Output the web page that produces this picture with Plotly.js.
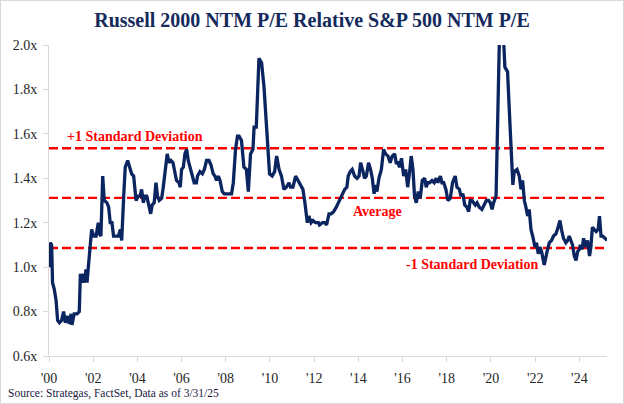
<!DOCTYPE html>
<html>
<head>
<meta charset="utf-8">
<script src="https://cdn.plot.ly/plotly-3.0.1.min.js"></script>
<style>
  html, body { margin: 0; padding: 0; background: #ffffff; }
  #frame { width: 624px; height: 404px; box-sizing: border-box; border: 1px solid #d9d9d9; overflow: hidden; }
  #chart { width: 622px; height: 402px; }
</style>
</head>
<body>
<div id="frame"><div id="chart"></div></div>
<script>
// ---- data ----
const dates = [
  2000.01,2000.06,2000.12,2000.16,2000.24,2000.32,2000.39,2000.47,2000.57,2000.66,2000.74,2000.84,2000.92,2001.00,2001.04,2001.14,2001.27,2001.37,2001.42,2001.48,
  2001.55,2001.63,2001.67,2001.72,2001.78,2001.86,2001.93,2002.02,2002.13,2002.23,2002.28,2002.35,2002.43,2002.50,2002.62,2002.70,2002.77,2002.85,2002.92,2003.03,
  2003.14,2003.23,2003.29,2003.38,2003.45,2003.56,2003.67,2003.74,2003.83,2003.94,2004.04,2004.12,2004.19,2004.27,2004.34,2004.42,2004.49,2004.60,2004.67,2004.76,
  2004.84,2004.91,2004.99,2005.10,2005.17,2005.25,2005.35,2005.43,2005.52,2005.61,2005.70,2005.77,2005.88,2005.94,2006.00,2006.08,2006.15,2006.23,2006.30,2006.38,
  2006.48,2006.57,2006.67,2006.72,2006.83,2006.94,2007.03,2007.13,2007.24,2007.33,2007.43,2007.51,2007.58,2007.66,2007.74,2007.84,2007.93,2008.04,2008.14,2008.26,
  2008.34,2008.44,2008.53,2008.60,2008.71,2008.82,2008.93,2009.02,2009.12,2009.23,2009.28,2009.38,2009.50,2009.62,2009.73,2009.88,2009.98,2010.10,2010.21,2010.30,
  2010.41,2010.52,2010.63,2010.74,2010.86,2010.93,2011.04,2011.16,2011.28,2011.38,2011.49,2011.58,2011.69,2011.76,2011.86,2011.95,2012.06,2012.19,2012.24,2012.37,
  2012.49,2012.56,2012.67,2012.77,2012.88,2013.00,2013.15,2013.27,2013.38,2013.48,2013.54,2013.63,2013.72,2013.83,2013.94,2014.03,2014.10,2014.21,2014.28,2014.36,
  2014.46,2014.55,2014.63,2014.71,2014.78,2014.84,2014.93,2015.04,2015.14,2015.23,2015.34,2015.44,2015.53,2015.64,2015.71,2015.79,2015.86,2015.95,2016.05,2016.14,
  2016.23,2016.32,2016.39,2016.47,2016.54,2016.62,2016.71,2016.80,2016.89,2017.00,2017.07,2017.13,2017.22,2017.33,2017.43,2017.52,2017.60,2017.71,2017.78,2017.86,
  2017.96,2018.05,2018.16,2018.26,2018.38,2018.46,2018.57,2018.64,2018.73,2018.81,2018.91,2018.99,2019.06,2019.14,2019.21,2019.29,2019.37,2019.47,2019.59,2019.70,
  2019.79,2019.89,2019.97,2020.05,2020.12,2020.23,2020.30,2020.44,2020.63,2020.75,2020.87,2020.99,2021.05,2021.18,2021.28,2021.36,2021.43,2021.51,2021.58,2021.66,
  2021.73,2021.81,2021.91,2021.99,2022.06,2022.14,2022.22,2022.29,2022.41,2022.50,2022.56,2022.64,2022.74,2022.83,2022.94,2023.01,2023.12,2023.19,2023.28,2023.39,
  2023.47,2023.54,2023.62,2023.69,2023.77,2023.85,2023.92,2024.00,2024.04,2024.12,2024.19,2024.28,2024.37,2024.46,2024.52,2024.59,2024.67,2024.76,2024.85,2024.91,
  2024.98,2025.05,2025.16,2025.25
];
const relativePE = [
  1.00,1.11,1.10,0.93,0.90,0.85,0.76,0.75,0.76,0.80,0.75,0.78,0.745,0.79,0.74,0.79,0.79,0.80,0.97,0.93,
  0.97,0.93,0.99,0.93,1.00,1.12,1.17,1.14,1.14,1.20,1.15,1.14,1.41,1.30,1.29,1.27,1.20,1.20,1.14,1.14,
  1.14,1.17,1.12,1.32,1.45,1.48,1.44,1.42,1.41,1.30,1.32,1.32,1.35,1.29,1.32,1.32,1.29,1.24,1.28,1.29,
  1.38,1.32,1.30,1.31,1.36,1.42,1.51,1.47,1.48,1.47,1.42,1.39,1.38,1.36,1.44,1.45,1.51,1.53,1.48,1.45,
  1.41,1.38,1.38,1.41,1.43,1.42,1.44,1.48,1.48,1.46,1.42,1.41,1.39,1.41,1.39,1.34,1.33,1.33,1.33,1.33,
  1.38,1.53,1.59,1.59,1.57,1.45,1.44,1.34,1.51,1.53,1.63,1.63,1.94,1.92,1.81,1.59,1.42,1.41,1.43,1.50,
  1.44,1.41,1.35,1.36,1.38,1.36,1.36,1.41,1.39,1.37,1.35,1.29,1.20,1.23,1.20,1.21,1.20,1.20,1.19,1.20,
  1.20,1.19,1.24,1.24,1.25,1.27,1.30,1.32,1.35,1.36,1.41,1.43,1.44,1.41,1.40,1.41,1.47,1.43,1.40,1.41,
  1.47,1.44,1.40,1.33,1.37,1.34,1.40,1.44,1.53,1.51,1.50,1.47,1.50,1.51,1.47,1.47,1.45,1.49,1.41,1.44,
  1.36,1.43,1.50,1.44,1.32,1.29,1.34,1.31,1.39,1.40,1.36,1.38,1.38,1.39,1.38,1.40,1.38,1.41,1.38,1.38,
  1.35,1.30,1.31,1.38,1.41,1.36,1.35,1.32,1.33,1.28,1.27,1.25,1.30,1.30,1.29,1.28,1.29,1.27,1.26,1.28,
  1.30,1.30,1.29,1.26,1.29,1.32,1.53,2.30,1.90,1.88,1.62,1.37,1.43,1.44,1.41,1.35,1.39,1.30,1.27,1.23,
  1.26,1.17,1.13,1.09,1.11,1.06,1.09,1.07,1.01,1.06,1.08,1.11,1.12,1.14,1.15,1.17,1.21,1.17,1.13,1.11,
  1.12,1.14,1.12,1.10,1.05,1.03,1.07,1.08,1.10,1.08,1.13,1.09,1.12,1.05,1.09,1.18,1.17,1.16,1.17,1.23,
  1.14,1.14,1.13,1.12
];
const average = 1.312;
const plusOneSD = 1.535;
const minusOneSD = 1.086;
const xTickYears = [2000,2002,2004,2006,2008,2010,2012,2014,2016,2018,2020,2022,2024];
const xTickLabels = ["'00","'02","'04","'06","'08","'10","'12","'14","'16","'18","'20","'22","'24"];
const yTickValues = [0.6,0.8,1.0,1.2,1.4,1.6,1.8,2.0];
const yTickLabels = ["0.6x","0.8x","1.0x","1.2x","1.4x","1.6x","1.8x","2.0x"];
const bandLabels = ["+1 Standard Deviation","Average","-1 Standard Deviation"];

// ---- chart ----
const serif = "Liberation Serif, Times New Roman, serif";
const navy = "#0b2560";
const red = "#ff0000";

const trace = {
  x: dates, y: relativePE, type: "scatter", mode: "lines",
  line: { color: navy, width: 3.3, shape: "linear" },
  hoverinfo: "skip", showlegend: false
};

function hline(v) {
  return { type: "line", xref: "paper", x0: 0, x1: 1, yref: "y", y0: v, y1: v,
           line: { color: red, width: 2.4, dash: "9px,4px" }, layer: "below" };
}

const layout = {
  width: 622, height: 402,
  margin: { l: 48, r: 16, t: 44, b: 47 },
  paper_bgcolor: "#ffffff", plot_bgcolor: "#ffffff",
  title: {
    text: "<b>Russell 2000 NTM P/E Relative S&P 500 NTM P/E</b>",
    font: { family: serif, size: 20, color: "#142a5c" },
    x: 0.5, xref: "container", xanchor: "center",
    y: 0.952, yref: "container", yanchor: "middle"
  },
  xaxis: {
    range: [2000, 2025.25], showgrid: false, zeroline: false,
    showline: true, linecolor: "#d9d9d9", linewidth: 1,
    ticks: "outside", ticklen: 5, tickcolor: "#d9d9d9",
    ticklabelstandoff: 4,
    tickmode: "array", tickvals: xTickYears, ticktext: xTickLabels,
    tickfont: { family: serif, size: 14, color: "#262626" }
  },
  yaxis: {
    range: [0.6, 2.0], showgrid: false, zeroline: false,
    showline: true, linecolor: "#d9d9d9", linewidth: 1,
    ticks: "outside", ticklen: 5, tickcolor: "#d9d9d9",
    ticklabelstandoff: 3,
    tickmode: "array", tickvals: yTickValues, ticktext: yTickLabels,
    tickfont: { family: serif, size: 14, color: "#262626" }
  },
  shapes: [hline(plusOneSD), hline(average), hline(minusOneSD)],
  annotations: [
    { text: "<b>" + bandLabels[0] + "</b>", x: 2003.88, y: 1.589, xref: "x", yref: "y",
      showarrow: false, font: { family: serif, size: 14, color: red } },
    { text: "<b>" + bandLabels[1] + "</b>", x: 2014.88, y: 1.251, xref: "x", yref: "y",
      showarrow: false, font: { family: serif, size: 14, color: red } },
    { text: "<b>" + bandLabels[2] + "</b>", x: 2019.14, y: 1.013, xref: "x", yref: "y",
      showarrow: false, font: { family: serif, size: 14, color: red } },
    { text: "Source: Strategas, FactSet, Data as of 3/31/25", xref: "paper", yref: "paper",
      x: -0.077, y: -0.12, xanchor: "left", yanchor: "middle", showarrow: false,
      font: { family: serif, size: 11.5, color: "#1a1a40" } }
  ]
};

Plotly.newPlot("chart", [trace], layout, { displayModeBar: false, staticPlot: true });
</script>
</body>
</html>
